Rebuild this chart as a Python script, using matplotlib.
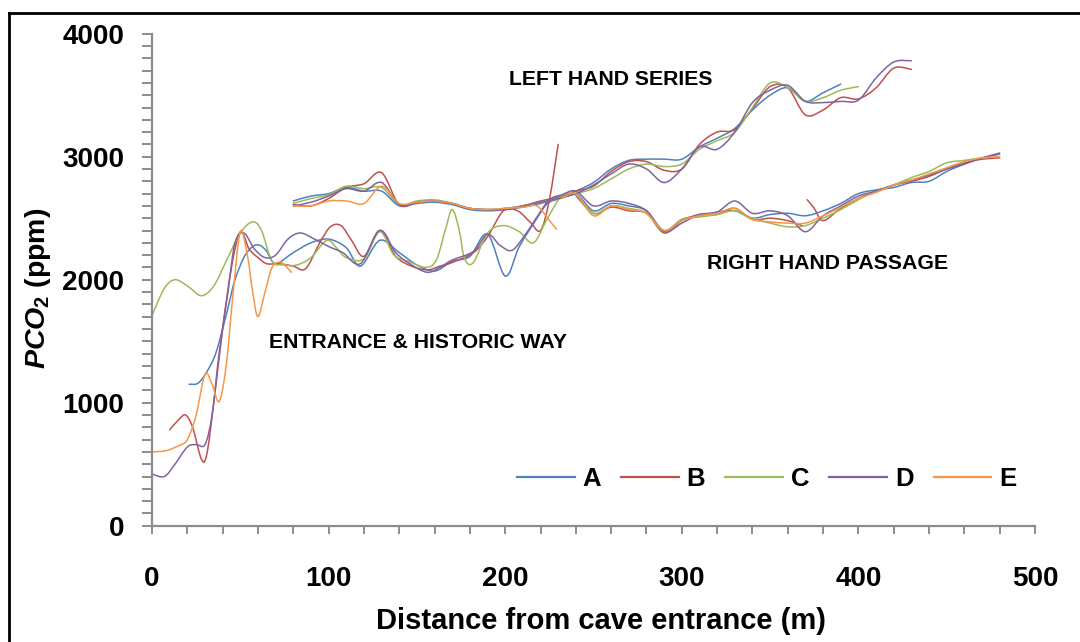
import matplotlib
matplotlib.use('Agg')
import matplotlib.pyplot as plt
from matplotlib.path import Path
from matplotlib.patches import PathPatch
from matplotlib.lines import Line2D
from matplotlib.ticker import MultipleLocator
import numpy as np

plt.rcParams['font.family'] = ['Liberation Sans', 'DejaVu Sans']
plt.rcParams['mathtext.fontset'] = 'custom'
plt.rcParams['mathtext.it'] = 'Liberation Sans:italic:bold'
plt.rcParams['mathtext.rm'] = 'Liberation Sans:bold'

# series names / colours (Excel 2007 palette)
names = ['A', 'B', 'C', 'D', 'E']
colors = ['#4F81BD', '#C0504D', '#9BBB59', '#8064A2', '#F79646']

# --- entrance & historic way ---
a_ent_x = [21, 27, 35, 40, 44, 47, 52, 57, 61, 65, 70, 80, 90, 100, 110, 118, 129, 140, 150, 160,
           170, 180, 190, 200, 208, 218, 224, 231]
a_ent_y = [1150, 1170, 1360, 1600, 1830, 2000, 2180, 2270, 2280, 2230, 2130, 2220, 2300, 2330, 2260, 2110,
           2320, 2220, 2120, 2070, 2150, 2190, 2370, 2030, 2270, 2500, 2620, 2660]
b_ent_x = [10, 15, 19, 23, 28, 31, 35, 40, 45, 50, 55, 60, 65, 72, 80, 87, 95, 101, 107, 113,
           120, 129, 138, 147, 156, 163, 170, 182, 190, 199, 207, 214, 220, 225, 230]
b_ent_y = [780, 860, 900, 800, 540, 580, 1000, 1600, 2100, 2390, 2250, 2180, 2130, 2130, 2110, 2090, 2300,
           2430, 2440, 2320, 2190, 2400, 2190, 2110, 2080, 2110, 2140, 2220, 2350, 2560, 2560, 2470, 2400,
           2650, 3100]
c_ent_x = [0, 7, 13, 20, 28, 35, 42, 50, 57, 62, 68, 75, 82, 90, 99, 105, 110, 120, 129, 137,
           145, 155, 161, 166, 170, 174, 177, 182, 190, 199, 208, 216, 224, 232]
c_ent_y = [1710, 1930, 2000, 1950, 1870, 1950, 2150, 2380, 2470, 2400, 2150, 2120, 2120, 2180, 2320, 2250,
           2180, 2170, 2390, 2200, 2150, 2100, 2160, 2400, 2570, 2400, 2170, 2140, 2380, 2440, 2390, 2300,
           2500, 2680]
d_ent_x = [0, 7, 13, 20, 25, 30, 34, 38, 43, 47, 52, 58, 64, 70, 77, 84, 92, 100, 108, 118,
           129, 138, 147, 156, 163, 170, 182, 190, 197, 204, 212, 218, 225, 232]
d_ent_y = [420, 400, 500, 640, 660, 660, 900, 1400, 1900, 2300, 2380, 2250, 2180, 2200, 2330, 2380, 2330,
           2270, 2220, 2130, 2400, 2220, 2120, 2060, 2100, 2160, 2230, 2370, 2280, 2240, 2380, 2510, 2650,
           2690]
e_ent_x = [0, 8, 15, 20, 25, 30, 34, 38, 42, 46, 50, 54, 57, 60, 64, 68, 73, 79]
e_ent_y = [600, 610, 650, 700, 900, 1230, 1150, 1010, 1300, 1900, 2390, 2200, 1900, 1700, 1900, 2100,
           2140, 2060]

# --- left hand series ---
left_x = [80, 90, 100, 110, 120, 130, 140, 150, 160, 170, 180, 190, 200, 210, 220, 230, 240, 250,
          260, 270, 280, 290, 300, 310, 320, 330, 340, 350, 360, 370, 380, 390, 400, 410, 420, 430]
a_left_y = [2640, 2680, 2700, 2750, 2720, 2720, 2600, 2620, 2630, 2610, 2570, 2560, 2570, 2590, 2620,
            2660, 2720, 2790, 2900, 2970, 2980, 2980, 2980, 3080, 3150, 3230, 3380, 3500, 3560, 3450,
            3520, 3590]
b_left_y = [2610, 2600, 2660, 2750, 2780, 2870, 2610, 2630, 2640, 2620, 2580, 2570, 2580, 2600, 2640,
            2670, 2720, 2760, 2880, 2960, 2960, 2890, 2900, 3100, 3200, 3220, 3390, 3570, 3560, 3340,
            3380, 3480, 3470, 3560, 3720, 3710]
c_left_y = [2620, 2660, 2690, 2760, 2740, 2750, 2610, 2640, 2650, 2620, 2580, 2570, 2580, 2600, 2630,
            2660, 2700, 2740, 2820, 2900, 2940, 2920, 2940, 3060, 3130, 3200, 3400, 3600, 3560, 3450,
            3480, 3540, 3570]
d_left_y = [2600, 2630, 2680, 2740, 2720, 2790, 2610, 2630, 2640, 2620, 2580, 2570, 2570, 2600, 2630,
            2660, 2700, 2770, 2860, 2940, 2900, 2790, 2900, 3080, 3060, 3200, 3440, 3540, 3580, 3450,
            3440, 3450, 3460, 3640, 3770, 3780]
e_left_x = [80, 90, 100, 110, 120, 130, 140, 150, 160, 170, 180, 190, 200, 210, 218, 224, 229]
e_left_y = [2600, 2600, 2640, 2640, 2620, 2760, 2620, 2630, 2640, 2620, 2580, 2570, 2580, 2590, 2600,
            2500, 2410]

# --- right hand passage ---
right_x = [240, 250, 260, 270, 280, 290, 300, 310, 320, 330, 340, 350, 360, 370, 380, 390, 400, 410,
           420, 430, 440, 450, 460, 470, 480]
a_right_y = [2700, 2560, 2620, 2600, 2560, 2400, 2490, 2520, 2550, 2560, 2500, 2530, 2540, 2520, 2560,
             2620, 2700, 2730, 2750, 2790, 2800, 2880, 2940, 2990, 3020]
c_right_y = [2690, 2540, 2600, 2580, 2540, 2390, 2490, 2510, 2530, 2560, 2500, 2460, 2430, 2440, 2500,
             2570, 2650, 2720, 2770, 2830, 2880, 2950, 2970, 2990, 3000]
d_right_y = [2720, 2600, 2640, 2620, 2560, 2390, 2460, 2530, 2550, 2640, 2540, 2560, 2520, 2390, 2520,
             2600, 2680, 2720, 2770, 2810, 2850, 2900, 2940, 2990, 3030]
e_right_x = [232, 240, 250, 260, 270, 280, 290, 300, 310, 320, 330, 340, 350, 360, 370, 380, 390, 400,
             410, 420, 430, 440, 450, 460, 470, 480]
e_right_y = [2660, 2700, 2520, 2600, 2570, 2540, 2400, 2480, 2520, 2540, 2580, 2490, 2470, 2460, 2460,
             2520, 2590, 2660, 2710, 2770, 2810, 2860, 2910, 2960, 2990, 3000]
b_right1_x = [238, 250, 260, 270, 280, 290, 300, 310, 320, 330, 340, 350, 360, 368]
b_right1_y = [2720, 2540, 2590, 2560, 2540, 2380, 2480, 2530, 2530, 2580, 2490, 2500, 2480, 2440]
b_right2_x = [371, 375, 380, 390, 400, 410, 420, 430, 440, 450, 460, 470, 480]
b_right2_y = [2650, 2580, 2480, 2580, 2660, 2720, 2770, 2800, 2840, 2900, 2950, 2980, 2990]

notes = ['LEFT HAND SERIES', 'RIGHT HAND PASSAGE', 'ENTRANCE & HISTORIC WAY']
notes_x = [202, 314, 66]
notes_y = [3630, 2128, 1493]


def smooth_line(ax, x, y, color):
    # Excel-style smoothed line: cubic bezier through the points
    p = np.column_stack([x, y]).astype(float)
    verts = [p[0]]
    codes = [Path.MOVETO]
    n = len(p)
    for i in range(n - 1):
        p0 = p[i - 1] if i > 0 else p[i]
        p3 = p[i + 2] if i + 2 < n else p[i + 1]
        c1 = p[i] + (p[i + 1] - p0) / 6.0
        c2 = p[i + 1] - (p3 - p[i]) / 6.0
        verts += [c1, c2, p[i + 1]]
        codes += [Path.CURVE4] * 3
    ax.add_patch(PathPatch(Path(verts, codes), facecolor='none', edgecolor=color,
                           lw=1.1, transform=ax.transData, capstyle='round'))


fig = plt.figure(figsize=(10.8, 6.42), dpi=100)
ax = fig.add_axes([152 / 1080, 1 - 525.7 / 642, (1035 - 152) / 1080, (525.7 - 33.7) / 642])

segments = {
    'A': [(a_ent_x + right_x, a_ent_y + a_right_y), (left_x[:len(a_left_y)], a_left_y)],
    'B': [(b_ent_x, b_ent_y), (left_x[:len(b_left_y)], b_left_y),
          (b_right1_x, b_right1_y), (b_right2_x, b_right2_y)],
    'C': [(c_ent_x + right_x, c_ent_y + c_right_y), (left_x[:len(c_left_y)], c_left_y)],
    'D': [(d_ent_x + right_x, d_ent_y + d_right_y), (left_x[:len(d_left_y)], d_left_y)],
    'E': [(e_ent_x, e_ent_y), (e_left_x, e_left_y), (e_right_x, e_right_y)],
}
for name, col in zip(names, colors):
    for sx, sy in segments[name]:
        smooth_line(ax, sx, sy, col)

ax.set_xlim(0, 500)
ax.set_ylim(0, 4000)
ax.xaxis.set_major_locator(MultipleLocator(100))
ax.xaxis.set_minor_locator(MultipleLocator(20))
ax.yaxis.set_major_locator(MultipleLocator(1000))
ax.yaxis.set_minor_locator(MultipleLocator(100))

grey = '#8c8c8c'
for s in ['top', 'right']:
    ax.spines[s].set_visible(False)
for s in ['left', 'bottom']:
    ax.spines[s].set_color(grey)
    ax.spines[s].set_linewidth(1.6)
ax.tick_params(axis='both', which='both', direction='out', color=grey, width=1.4)
ax.tick_params(axis='x', which='both', length=6, pad=23, labelsize=20)
ax.tick_params(axis='y', which='both', length=7, pad=13, labelsize=20)
for lab in ax.get_xticklabels() + ax.get_yticklabels():
    lab.set_fontweight('bold')

ax.set_xlabel('Distance from cave entrance (m)', fontsize=21, fontweight='bold')
ax.xaxis.set_label_coords(0.508, -0.166)
ax.set_ylabel(r'$PCO_2$ (ppm)', fontsize=20.5, fontweight='bold')
ax.yaxis.set_label_coords(-0.112, 0.483)

for t, tx, ty in zip(notes, notes_x, notes_y):
    ax.text(tx, ty, t, fontsize=15.3, fontweight='bold', ha='left', va='center')

handles = [Line2D([], [], color=c, lw=1.6) for c in colors]
fig.legend(handles, names, loc='center left', bbox_to_anchor=(517 / 1080, 1 - 479 / 642),
           ncol=5, frameon=False, handlelength=2.25, handletextpad=0.3, columnspacing=0.78,
           borderpad=0, borderaxespad=0, prop={'weight': 'bold', 'size': 18.5})

# page frame around the figure
fig.add_artist(Line2D([9 / 1080, 9 / 1080], [0, 1 - 13 / 642], color='black', lw=2,
                      transform=fig.transFigure))
fig.add_artist(Line2D([9 / 1080, 1], [1 - 13 / 642, 1 - 13 / 642], color='black', lw=2,
                      transform=fig.transFigure))

fig.savefig('out.png', dpi=100)
